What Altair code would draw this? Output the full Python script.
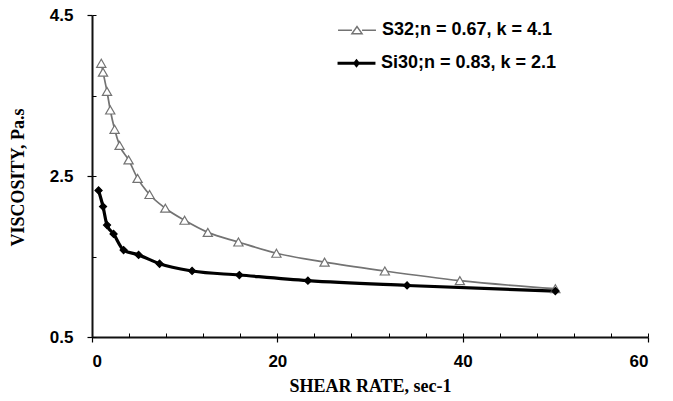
import altair as alt
import pandas as pd

series_names = ["S32;n = 0.67, k = 4.1", "Si30;n = 0.83, k = 2.1"]

s32_x = [1.0, 1.19, 1.62, 1.97, 2.44, 2.98, 3.95, 4.92, 6.21, 7.91, 9.99, 12.5, 15.8, 19.9, 25.1, 31.6, 39.7, 50.0]
s32_y = [3.90, 3.79, 3.55, 3.32, 3.08, 2.88, 2.70, 2.47, 2.27, 2.10, 1.95, 1.80, 1.68, 1.54, 1.43, 1.32, 1.20, 1.10]

si30_x = [0.71, 1.19, 1.62, 2.33, 3.41, 5.03, 7.29, 10.8, 15.9, 23.3, 34.0, 50.0]
si30_y = [2.32, 2.12, 1.89, 1.78, 1.58, 1.52, 1.41, 1.32, 1.27, 1.20, 1.14, 1.07]

x_major = [0, 20, 40, 60]
x_minor = [0, 4, 8, 12, 16, 20, 24, 28, 32, 36, 40, 44, 48, 52, 56, 60]
y_major = [0.5, 2.5, 4.5]
y_minor = [0.5, 1.5, 2.5, 3.5, 4.5]

rows = []
for xv, yv in zip(s32_x, s32_y):
    rows.append({"series": series_names[0], "shear": xv, "visc": yv})
for xv, yv in zip(si30_x, si30_y):
    rows.append({"series": series_names[1], "shear": xv, "visc": yv})
df = pd.DataFrame(rows)

xscale = alt.Scale(domain=[0, 60], nice=False, zero=False)
yscale = alt.Scale(domain=[0.5, 4.5], nice=False, zero=False)

label_font = "Liberation Sans"
title_font = "Liberation Serif"

x_main_axis = alt.Axis(
    values=x_major, format="d", title="SHEAR RATE, sec-1", grid=False,
    tickSize=5, tickColor="black", tickWidth=1.2, domainColor="#111111", domainWidth=1.8,
    labelFont=label_font, labelFontSize=17, labelFontWeight="bold", labelColor="black",
    labelPadding=11, titleFont=title_font, titleFontSize=18, titleFontWeight="bold",
    titleColor="black", titleY=49, titleBaseline="middle",
)
y_main_axis = alt.Axis(
    values=y_major, format=".1f", title="VISCOSITY, Pa.s", grid=False,
    tickSize=5, tickColor="black", tickWidth=1.2, domainColor="#111111", domainWidth=2,
    labelFont=label_font, labelFontSize=17, labelFontWeight="bold", labelColor="black",
    labelPadding=14, titleFont=title_font, titleFontSize=18, titleFontWeight="bold",
    titleColor="black", titleX=-74, titleY=162, titleBaseline="middle",
)
x_minor_axis = alt.Axis(
    values=x_minor, labels=False, domain=False, grid=False, title=None, orient="bottom",
    tickSize=4, offset=-4, tickColor="black", tickWidth=1,
)
y_minor_axis = alt.Axis(
    values=y_minor, labels=False, domain=False, grid=False, title=None, orient="left",
    tickSize=4, offset=-4, tickColor="black", tickWidth=1,
)

colors = ["#737373", "#000000"]

lines = alt.Chart(df).mark_line(interpolate="monotone").encode(
    x=alt.X("shear:Q", scale=xscale, axis=x_main_axis),
    y=alt.Y("visc:Q", scale=yscale, axis=y_main_axis),
    color=alt.Color("series:N", scale=alt.Scale(domain=series_names, range=colors), legend=None),
    strokeWidth=alt.StrokeWidth("series:N", scale=alt.Scale(domain=series_names, range=[1.7, 3.2]), legend=None),
)

points = alt.Chart(df).mark_point(opacity=1, fillOpacity=1, strokeWidth=1.2).encode(
    x=alt.X("shear:Q", scale=xscale, axis=x_minor_axis),
    y=alt.Y("visc:Q", scale=yscale, axis=y_minor_axis),
    shape=alt.Shape("series:N", scale=alt.Scale(domain=series_names, range=["triangle-up", "diamond"]), legend=None),
    stroke=alt.Stroke("series:N", scale=alt.Scale(domain=series_names, range=colors), legend=None),
    fill=alt.Fill("series:N", scale=alt.Scale(domain=series_names, range=["#ffffff", "#000000"]), legend=None),
    size=alt.Size("series:N", scale=alt.Scale(domain=series_names, range=[85, 50]), legend=None),
)

# Legend symbols: a short line with the series marker in its middle
tri_path = "M-1.58,0H-0.42M0.42,0H1.58M-0.42,0.28L0,-0.32L0.42,0.28Z"
dia_path = "M-1.58,-0.12H1.58V0.12H-1.58ZM-0.3,0L0,-0.38L0.3,0L0,0.38Z"


def legend_layer(idx, path, color, filled, sw, ly):
    leg = alt.Legend(
        title=None, orient="none", legendX=252, legendY=ly, padding=0, offset=0,
        symbolSize=576, labelOffset=12, symbolStrokeWidth=sw, symbolOpacity=1,
        labelLimit=400,
        labelFont=label_font, labelFontSize=18, labelFontWeight="bold", labelColor="black",
    )
    return alt.Chart(df).transform_filter("false").mark_point(
        color=color, filled=filled, strokeWidth=sw, opacity=1, size=576
    ).encode(
        shape=alt.Shape("series:N", scale=alt.Scale(domain=[series_names[idx]], range=[path]), legend=leg),
    )


leg1 = legend_layer(0, tri_path, "#737373", False, 1.5, 2.3)
leg2 = legend_layer(1, dia_path, "#000000", True, 1, 35.7)

chart = alt.layer(lines, points, leg1, leg2).resolve_axis(
    x="independent", y="independent"
).resolve_scale(shape="independent").properties(
    width=556, height=322,
    autosize=alt.AutoSizeParams(type="none"),
    padding={"left": 92, "top": 15, "right": 25, "bottom": 64},
    background="white",
).configure_view(stroke=None)

chart.save("out.html", embed_options={"renderer": "svg", "actions": False})
